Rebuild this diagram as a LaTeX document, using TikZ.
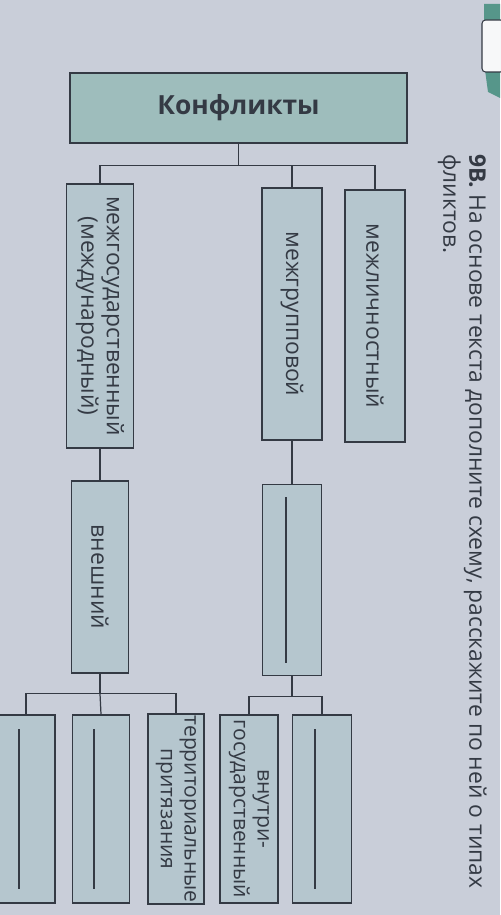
\documentclass[tikz,border=0pt]{standalone}
\usepackage{fontspec}
\setmainfont{Open Sans}
\usetikzlibrary{calc}
\definecolor{paper}{RGB}{201,206,217}
\definecolor{headfill}{RGB}{158,189,188}
\definecolor{boxfill}{RGB}{181,198,206}
\definecolor{ink}{RGB}{52,58,68}
\definecolor{tabgreen}{RGB}{86,150,138}
\begin{document}
\begin{tikzpicture}[x=0.02cm,y=-0.02cm,line width=0.7pt,color=ink,
	vbox/.style={draw=ink,line width=0.9pt,fill=boxfill,rotate=-90,inner sep=2pt,align=center,font=\fontsize{13}{14.5}\selectfont},
	headbox/.style={draw=ink,line width=0.9pt,fill=headfill,inner sep=2pt,font=\bfseries\fontsize{15}{17}\selectfont}]
	\useasboundingbox (0,0) rectangle (500,915);
	\fill[paper] (0,0) rectangle (500,915);
	% corner tab
	\fill[tabgreen] (484,4)--(500,4)--(500,98)--(488,92)--(485,70)--(484,20)--cycle;
	\draw[fill=white!85!paper,line width=0.6pt,rounded corners=2pt] (482,20) rectangle (504,72);
	\node[rotate=-90,anchor=north west,align=left,font=\fontsize{13}{14.8}\selectfont] (task) at (493,148)
		{\textbf{9В.} На основе текста дополните схему, расскажите по ней о типах\\фликтов.};
	% first level
	\node[headbox,minimum width=6.74cm,minimum height=1.4cm] (konf) at (238.5,108) {Конфликты};
	\node[vbox,minimum width=5.28cm,minimum height=1.34cm] (mezhgos) at (100,316) {межгосударственный\\(международный)};
	\node[vbox,minimum width=5.04cm,minimum height=1.2cm] (mezhgr) at (292,314) {межгрупповой};
	\node[vbox,minimum width=5.04cm,minimum height=1.2cm] (mezhlich) at (375,316) {межличностный};
	% second level
	\node[vbox,minimum width=3.84cm,minimum height=1.14cm] (vnesh) at (100,577) {внешний};
	\node[vbox,minimum width=3.82cm,minimum height=1.18cm] (blank1) at (292,580) {};
	% third level
	\node[vbox,minimum width=3.76cm,minimum height=1.16cm] (b1) at (26,809) {};
	\node[vbox,minimum width=3.76cm,minimum height=1.14cm] (b2) at (101,809) {};
	\node[vbox,inner sep=1pt,font=\fontsize{12}{13.6}\selectfont,minimum width=3.76cm,minimum height=1.12cm] (terr) at (176,809) {территориальные\\притязания};
	\node[vbox,inner sep=1pt,font=\fontsize{12}{13.6}\selectfont,minimum width=3.76cm,minimum height=1.16cm] (vnutri) at (249,809) {внутри-\\государственный};
	\node[vbox,minimum width=3.76cm,minimum height=1.18cm] (b5) at (322,809) {};
	% connectors
	\draw (konf.south) -- ++(0,22) coordinate (hub1);
	\draw (mezhgos.west) |- (hub1) -| (mezhlich.west);
	\draw (hub1) -| (mezhgr.west);
	\draw (mezhgos.east) -- (vnesh.west);
	\draw (mezhgr.east) -- (blank1.west);
	\draw (vnesh.east) -- ++(0,20) coordinate (hub2);
	\draw (b1.west) |- (hub2) -| (terr.west);
	\draw (hub2) -- (b2.west);
	\draw (blank1.east) -- ++(0,20) coordinate (hub3);
	\draw (vnutri.west) |- (hub3) -| (b5.west);
	% blanks to fill in
	\draw ($(blank1)+(-6,-83)$) -- ($(blank1)+(-6,83)$);
	\foreach \b in {b1,b2,b5}{\draw ($(\b)+(-7,-80)$) -- ($(\b)+(-7,80)$);}
\end{tikzpicture}
\end{document}
